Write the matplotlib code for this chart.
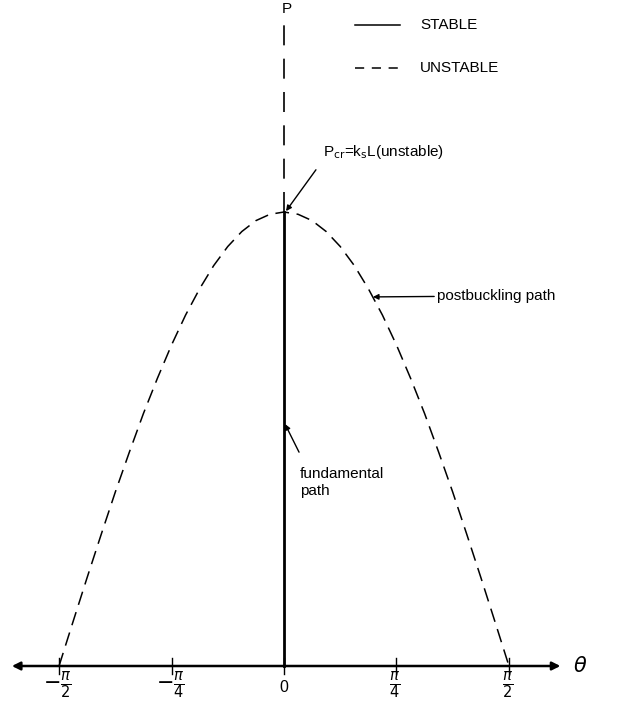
import numpy as np
import matplotlib.pyplot as plt

# postbuckling path, theta in rad, load as P/Pcr
theta = np.arange(-16, 17) * np.pi / 32
load = [0.000, 0.098, 0.195, 0.290, 0.383, 0.471, 0.556, 0.634, 0.707,
        0.773, 0.831, 0.882, 0.924, 0.957, 0.981, 0.995, 1.000,
        0.995, 0.981, 0.957, 0.924, 0.882, 0.831, 0.773, 0.707,
        0.634, 0.556, 0.471, 0.383, 0.290, 0.195, 0.098, 0.000]
p_cr = 1.0

tick_pos = [-np.pi / 2, -np.pi / 4, 0, np.pi / 4, np.pi / 2]
tick_lab = [r'$-\frac{\pi}{2}$', r'$-\frac{\pi}{4}$', '0', r'$\frac{\pi}{4}$', r'$\frac{\pi}{2}$']

plt.rcParams['font.family'] = ['Liberation Sans', 'DejaVu Sans']
plt.rcParams['mathtext.fontset'] = 'dejavusans'

fig = plt.figure(figsize=(6.24, 7.04), dpi=100)
ax = fig.add_axes([0, 0, 1, 1])
ax.set_xlim(-1.983, 2.374)
ax.set_ylim(-0.0837, 1.467)
ax.axis('off')

# theta axis with arrows both ways
ax.annotate('', xy=(1.93, 0), xytext=(-1.90, 0),
            arrowprops=dict(arrowstyle='<|-|>', lw=1.8, color='k', mutation_scale=12,
                            shrinkA=0, shrinkB=0))
ax.text(2.02, 0.0, r'$\theta$', fontsize=15, va='center', ha='left', style='italic')
for x, lab in zip(tick_pos, tick_lab):
    ax.plot([x, x], [-0.017, 0.017], color='k', lw=1)
    if lab == '0':
        ax.text(x, -0.047, lab, ha='center', va='center', fontsize=11.5)
    else:
        ax.text(x - 0.01, -0.042, lab, ha='center', va='center', fontsize=15)

# load axis: fundamental (stable) below Pcr, unstable above
ax.plot([0, 0], [0, p_cr], color='k', lw=2)
ax.plot([0, 0], [p_cr, 1.427], color='k', lw=1.2, dashes=(12, 8))
ax.text(0.02, 1.447, 'P', fontsize=11, ha='center', va='center')

# postbuckling path
ax.plot(theta, load, color='k', lw=1.1, dashes=(9, 5))

# legend
ax.plot([0.496, 0.81], [1.412, 1.412], color='k', lw=1.1)
ax.plot([0.496, 0.81], [1.317, 1.317], color='k', lw=1.1, dashes=(6, 5))
ax.text(0.95, 1.412, 'STABLE', fontsize=11, va='center')
ax.text(0.95, 1.317, 'UNSTABLE', fontsize=11, va='center')

arrow = dict(arrowstyle='-|>', lw=1, color='k', mutation_scale=8, shrinkA=0, shrinkB=0)
ax.text(0.272, 1.132, r'P$_{\rm cr}$=k$_{\rm s}$L(unstable)', fontsize=11, va='center', ha='left')
ax.annotate('', xy=(0.014, 1.002), xytext=(0.223, 1.093), arrowprops=arrow)
ax.annotate('postbuckling path', xy=(0.621, 0.813), xytext=(1.068, 0.815),
            fontsize=11, va='center', ha='left', arrowprops=arrow)
ax.text(0.112, 0.404, 'fundamental\npath', fontsize=11, va='center', ha='left',
        linespacing=1.3)
ax.annotate('', xy=(0.007, 0.533), xytext=(0.105, 0.471), arrowprops=arrow)

fig.savefig('out.png', dpi=100)
